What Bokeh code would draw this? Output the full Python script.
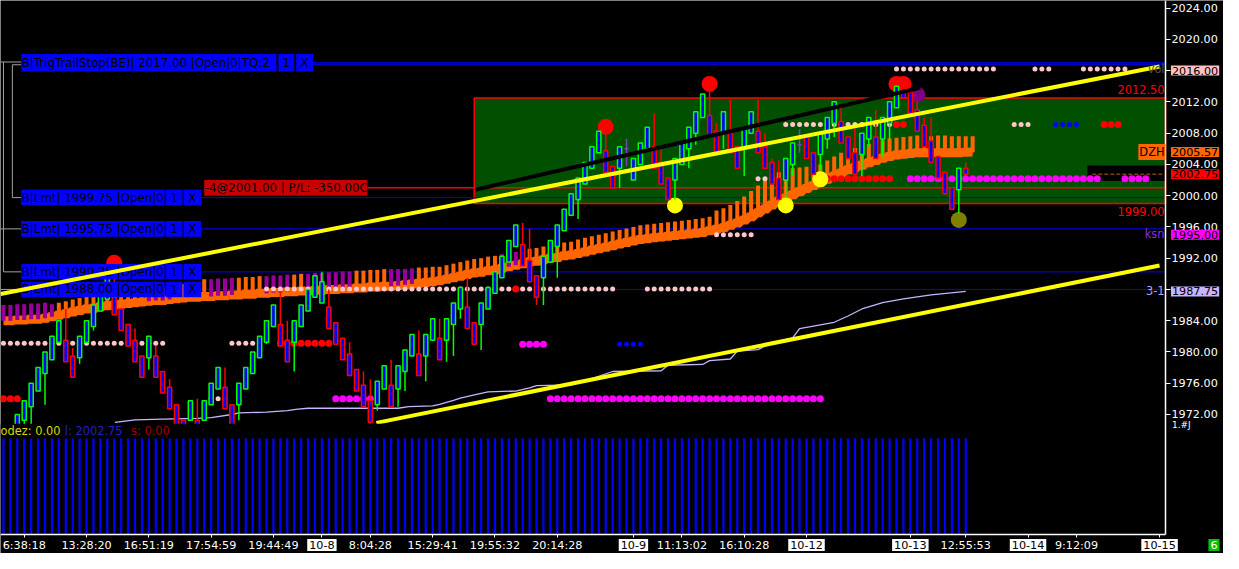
from bokeh.plotting import figure
from bokeh.models import (Range1d, LinearAxis, FixedTicker, Label, ColumnDataSource,
                          PrintfTickFormatter)
from bokeh.core.properties import value
from bokeh.embed import file_html
from bokeh.resources import INLINE

FONT = "DejaVu Sans"

# ---------------------------------------------------------------- data
# range-bar candles, bar 0 .. 137
opens = [1969.25, 1971.25, 1973.0, 1975.0, 1977.25, 1979.0, 1981.25, 1981.5, 1979.5, 1979.25,
         1981.25, 1983.25, 1985.25, 1986.75, 1987.0, 1985.5, 1983.5, 1981.5, 1979.5, 1979.25,
         1979.5, 1977.5, 1975.5, 1973.25, 1971.25, 1971.25, 1971.25, 1971.25, 1973.25, 1975.25,
         1975.5, 1973.25, 1973.25, 1975.25, 1977.25, 1979.25, 1981.25, 1983.25, 1983.5, 1981.5,
         1981.25, 1983.25, 1985.25, 1987.0, 1986.25, 1985.75, 1983.75, 1981.75, 1979.75, 1977.75,
         1975.75, 1973.75, 1973.25, 1975.25, 1975.75, 1975.25, 1977.5, 1979.5, 1979.75, 1979.5,
         1981.5, 1981.75, 1981.5, 1983.5, 1985.5, 1985.75, 1983.75, 1983.5, 1985.5, 1987.5,
         1989.5, 1991.5, 1993.5, 1993.75, 1991.75, 1989.75, 1989.5, 1991.5, 1993.5, 1995.5,
         1997.5, 1999.5, 2001.5, 2003.5, 2005.5, 2005.75, 2003.75, 2003.5, 2006.0, 2002.0,
         2004.0, 2006.0, 2006.25, 2004.25, 2002.25, 2002.0, 2004.0, 2006.0, 2008.0, 2010.0,
         2010.25, 2008.25, 2008.0, 2008.25, 2006.25, 2006.0, 2008.0, 2008.25, 2006.25, 2004.25,
         2002.25, 2002.0, 2004.0, 2006.5, 2007.5, 2005.5, 2005.25, 2007.25, 2009.25, 2009.5,
         2007.5, 2005.5, 2005.25, 2007.25, 2007.5, 2007.25, 2009.25, 2011.25, 2013.75, 2013.25,
         2011.0, 2009.0, 2007.0, 2005.0, 2003.0, 2001.0, 2000.75, 2003.5]
highs = [1972.0, 1973.75, 1976.0, 1978.0, 1980.0, 1982.0, 1984.0, 1985.5, 1980.5, 1982.0,
         1984.0, 1986.0, 1988.0, 1989.75, 1990.25, 1985.5, 1983.5, 1983.0, 1979.5, 1982.0,
         1980.75, 1977.5, 1976.5, 1973.25, 1971.25, 1973.75, 1974.0, 1973.75, 1976.0, 1978.0,
         1978.0, 1973.25, 1976.0, 1978.0, 1980.0, 1982.0, 1984.0, 1986.0, 1987.75, 1984.0,
         1984.0, 1986.0, 1988.0, 1989.75, 1990.25, 1988.0, 1983.75, 1981.75, 1981.25, 1977.75,
         1977.5, 1976.5, 1976.25, 1978.25, 1979.0, 1978.25, 1980.25, 1982.25, 1982.75, 1982.25,
         1984.25, 1984.25, 1984.25, 1986.25, 1988.25, 1989.5, 1983.75, 1986.25, 1988.25, 1990.25,
         1992.25, 1994.25, 1996.25, 1996.5, 1995.75, 1989.75, 1992.25, 1994.25, 1996.25, 1998.25,
         2000.25, 2002.25, 2004.25, 2006.25, 2008.25, 2008.75, 2003.75, 2006.25, 2007.25, 2004.75,
         2006.75, 2008.75, 2010.5, 2006.0, 2002.25, 2004.75, 2006.75, 2008.75, 2010.75, 2013.0,
         2013.25, 2009.25, 2010.75, 2012.25, 2006.25, 2008.75, 2010.75, 2012.25, 2008.0, 2004.75,
         2004.5, 2004.75, 2006.75, 2008.5, 2007.5, 2005.5, 2008.0, 2010.0, 2012.0, 2011.5,
         2007.5, 2008.75, 2008.0, 2010.0, 2011.0, 2010.0, 2012.0, 2014.0, 2014.0, 2013.25,
         2012.0, 2010.0, 2010.0, 2005.0, 2003.0, 2001.0, 2003.5, 2004.25]
lows = [1969.0, 1970.5, 1970.75, 1975.0, 1973.25, 1979.0, 1981.25, 1978.75, 1976.75, 1978.5,
        1981.25, 1982.75, 1985.25, 1986.75, 1984.75, 1982.75, 1980.75, 1978.75, 1976.75, 1977.75,
        1976.75, 1974.75, 1972.75, 1970.5, 1968.5, 1971.25, 1968.5, 1971.25, 1973.25, 1975.25,
        1972.75, 1970.5, 1971.25, 1975.25, 1977.25, 1979.25, 1981.0, 1983.25, 1980.75, 1978.75,
        1977.5, 1983.25, 1985.25, 1987.0, 1986.25, 1983.0, 1981.0, 1979.0, 1977.0, 1975.0,
        1973.0, 1970.5, 1972.5, 1975.25, 1973.0, 1973.0, 1975.0, 1979.5, 1977.0, 1976.25,
        1981.5, 1979.0, 1978.75, 1979.5, 1984.25, 1983.0, 1981.0, 1980.25, 1985.5, 1987.5,
        1989.5, 1991.5, 1993.5, 1991.0, 1989.0, 1986.0, 1986.0, 1991.5, 1989.5, 1995.5,
        1997.5, 1997.0, 2001.5, 2003.5, 2005.5, 2003.0, 2001.0, 2001.0, 2003.75, 2002.0,
        2004.0, 2006.0, 2003.5, 2001.5, 1999.5, 1999.5, 2004.0, 2003.5, 2006.5, 2010.0,
        2007.5, 2005.5, 2006.0, 2005.5, 2003.5, 2002.5, 2008.0, 2005.5, 2003.5, 2001.5,
        1999.5, 1999.75, 2002.5, 2005.5, 2004.75, 2002.75, 2003.25, 2006.0, 2007.5, 2006.75,
        2004.75, 2002.75, 2002.5, 2006.25, 2004.75, 2005.0, 2007.25, 2011.25, 2012.5, 2010.5,
        2008.25, 2006.25, 2004.25, 2002.25, 2000.25, 1998.25, 1997.75, 2002.75]
closes = [1972.0, 1973.75, 1976.0, 1978.0, 1980.0, 1982.0, 1984.0, 1978.75, 1976.75, 1982.0,
          1984.0, 1986.0, 1988.0, 1989.75, 1984.75, 1982.75, 1980.75, 1978.75, 1976.75, 1982.0,
          1976.75, 1974.75, 1972.75, 1970.5, 1968.5, 1973.75, 1968.5, 1973.75, 1976.0, 1978.0,
          1972.75, 1970.5, 1976.0, 1978.0, 1980.0, 1982.0, 1984.0, 1986.0, 1980.75, 1978.75,
          1984.0, 1986.0, 1988.0, 1989.75, 1989.0, 1983.0, 1981.0, 1979.0, 1977.0, 1975.0,
          1973.0, 1971.0, 1976.25, 1978.25, 1973.0, 1978.25, 1980.25, 1982.25, 1977.0, 1982.25,
          1984.25, 1979.0, 1984.25, 1986.25, 1988.25, 1983.0, 1981.0, 1986.25, 1988.25, 1990.25,
          1992.25, 1994.25, 1996.25, 1991.0, 1989.0, 1987.0, 1992.25, 1994.25, 1996.25, 1998.25,
          2000.25, 2002.25, 2004.25, 2006.25, 2008.25, 2003.0, 2001.0, 2006.25, 2006.0, 2004.75,
          2006.75, 2008.75, 2003.5, 2001.5, 1999.5, 2004.75, 2006.75, 2008.75, 2010.75, 2013.0,
          2007.5, 2005.5, 2010.75, 2005.5, 2003.5, 2008.75, 2010.75, 2005.5, 2003.5, 2001.5,
          1999.5, 2004.75, 2006.75, 2006.5, 2004.75, 2002.75, 2008.0, 2010.0, 2012.0, 2006.75,
          2004.75, 2002.75, 2008.0, 2010.0, 2004.75, 2010.0, 2012.0, 2014.0, 2012.5, 2010.5,
          2008.25, 2006.25, 2004.25, 2002.25, 2000.25, 1998.25, 2003.5, 2002.75]

# volume pane: bars -2 .. 137, every bar reaches the same height in the picture
vol_bars = list(range(-2, 138))
volume = [1.0] * len(vol_bars)

# orange "cloud" indicator, bars -2 .. 138: band level and stick tops
cloud_bars = list(range(-2, 139))
cloud_base = [1984.0, 1984.0, 1984.1, 1984.1, 1984.2, 1984.2, 1984.3,
              1984.5, 1984.7, 1984.9, 1985.1, 1985.3, 1985.5, 1985.6, 1985.8, 1985.9, 1986.0,
              1986.1, 1986.2, 1986.3, 1986.4, 1986.5, 1986.6, 1986.6, 1986.7, 1986.8, 1986.9, 1987.0, 1987.0,
              1987.1, 1987.1, 1987.2, 1987.2, 1987.3, 1987.3, 1987.4, 1987.4, 1987.5, 1987.5, 1987.6, 1987.6, 1987.7, 1987.7,
              1987.8, 1987.8, 1987.9, 1987.9, 1988.0, 1988.0, 1988.1, 1988.1, 1988.2, 1988.2,
              1988.3, 1988.3, 1988.4, 1988.4, 1988.5, 1988.6, 1988.7, 1988.8, 1988.9, 1989.0,
              1989.1, 1989.3, 1989.5, 1989.7, 1989.9, 1990.1, 1990.2, 1990.4, 1990.5, 1990.7,
              1990.9, 1991.1, 1991.3, 1991.5, 1991.6, 1991.8, 1992.0, 1992.1, 1992.3, 1992.4,
              1992.6, 1992.8, 1993.0, 1993.2, 1993.4, 1993.6, 1993.8, 1994.0, 1994.2, 1994.4,
              1994.5, 1994.6, 1994.7, 1994.8, 1994.9, 1995.0, 1995.1, 1995.2, 1995.3, 1995.5,
              1995.7, 1995.9, 1996.2, 1996.5, 1996.9, 1997.3, 1997.8, 1998.3, 1998.8, 1999.3,
              1999.7, 2000.1, 2000.5, 2000.9, 2001.3, 2001.7, 2002.1, 2002.5, 2002.9, 2003.3,
              2003.6, 2003.9, 2004.2, 2004.5, 2004.8, 2005.0, 2005.2, 2005.3, 2005.4, 2005.5,
              2005.5, 2005.5, 2005.5, 2005.5, 2005.5, 2005.5, 2005.55, 2005.57]
cloud_top = [1986.0, 1986.0, 1986.1, 1986.1, 1986.2, 1986.2, 1986.3,
             1986.1, 1986.3, 1986.5, 1986.7, 1986.9, 1987.1, 1987.2, 1987.4, 1987.5, 1987.6,
             1987.9, 1988.0, 1988.1, 1988.2, 1988.3, 1988.4, 1988.4, 1988.5, 1988.6, 1988.7, 1988.8, 1988.8,
             1989.3, 1989.3, 1989.4, 1989.4, 1989.5, 1989.5, 1989.6, 1989.6, 1989.7, 1989.7, 1989.8, 1989.8, 1989.9, 1989.9,
             1990.0, 1990.0, 1990.1, 1990.1, 1990.2, 1990.2, 1990.3, 1990.3, 1990.4, 1990.4,
             1990.5, 1990.5, 1990.6, 1990.6, 1990.6, 1990.6, 1990.7, 1990.8, 1990.8, 1990.9,
             1990.9, 1991.1, 1991.3, 1991.5, 1991.7, 1991.9, 1992.0, 1992.2, 1992.3, 1992.5,
             1992.6, 1992.8, 1993.0, 1993.2, 1993.3, 1993.5, 1993.7, 1993.8, 1994.0, 1994.1,
             1994.4, 1994.6, 1994.8, 1995.0, 1995.2, 1995.4, 1995.6, 1995.8, 1996.0, 1996.2,
             1996.3, 1996.4, 1996.5, 1996.6, 1996.7, 1996.8, 1996.9, 1997.0, 1997.1, 1997.3,
             1998.1, 1998.4, 1998.8, 1999.3, 1999.9, 2000.6, 2001.3, 2002.0, 2002.5, 2003.0,
             2003.3, 2003.5, 2003.6, 2003.7, 2003.8, 2004.0, 2004.5, 2005.0, 2005.5, 2005.9,
             2006.1, 2006.4, 2006.6, 2006.9, 2007.1, 2007.3, 2007.4, 2007.5, 2007.6, 2007.7,
             2007.6, 2007.6, 2007.7, 2007.7, 2007.6, 2007.6, 2007.6, 2007.6]
cloud_purple_runs = [(-2, 5), (19, 22), (28, 31), (36, 39), (42, 48), (54, 57), (70, 72)]

# thin lavender "3-1" line (bar, price)
lav_bars = [14.1, 17, 21, 26, 28, 31, 32, 36, 39, 40.5, 42, 55, 56.5, 60, 61, 63, 64, 66, 68, 72,
            74, 75, 80, 83, 86, 93, 94, 99, 100, 103, 104, 107, 109, 112, 113, 118, 120, 122, 125,
            128, 132, 137]
lav_prices = [1971.0, 1971.3, 1971.4, 1971.5, 1971.6, 1972.0, 1972.2, 1972.3, 1972.5, 1972.7,
              1972.8, 1972.8, 1973.0, 1973.1, 1973.3, 1973.8, 1974.1, 1974.5, 1974.9, 1975.0,
              1975.4, 1975.7, 1975.8, 1976.6, 1977.5, 1977.6, 1978.3, 1978.4, 1978.9, 1979.1,
              1980.1, 1980.3, 1981.2, 1981.8, 1983.0, 1983.8, 1984.6, 1985.5, 1986.3, 1986.8,
              1987.3, 1987.75]

# trend lines (bar, price) end points
upper_trend_bars, upper_trend_prices = [-2.43, 165.0], [1987.42, 2016.53]
lower_trend_bars, lower_trend_prices = [51.86, 165.0], [1970.93, 1991.06]
black_trend_bars, black_trend_prices = [66.14, 130.43], [2000.75, 2013.79]

# dot rows: first bar, last bar, price, kind
dot_rows = [
    (127, 141, 2016.2, "pink"), (147, 149, 2016.2, "pink"), (154, 160, 2016.2, "pink"),
    (111, 126, 2009.1, "pink"), (127, 128, 2009.1, "red"), (144, 146, 2009.1, "pink"),
    (150, 153, 2009.1, "blue"), (157, 159, 2009.1, "red"),
    (107, 110, 2002.15, "pink"), (117, 126, 2002.15, "red"), (129, 156, 2002.15, "magenta"),
    (160, 163, 2002.15, "magenta"),
    (101, 106, 1995.0, "pink"),
    (36, 71, 1988.05, "pink"), (72, 72, 1988.05, "red"), (73, 86, 1988.05, "pink"),
    (91, 100, 1988.05, "pink"),
    (-2, 21, 1981.1, "pink"), (31, 34, 1981.1, "pink"), (38, 45, 1981.1, "red"),
    (73, 76, 1981.0, "magenta"), (87, 90, 1981.0, "blue"),
    (-2, 0, 1974.0, "red"), (28, 30, 1974.0, "pink"), (46, 51, 1974.0, "magenta"),
    (77, 116, 1974.0, "magenta"),
]

# big signal circles
circle_bars = [14, 85, 100, 127, 128, 95, 111, 116, 130, 136]
circle_prices = [1991.4, 2008.8, 2014.3, 2014.3, 2014.3, 1998.75, 1998.75, 2002.1, 2012.9, 1996.9]
circle_kinds = ["red", "red", "red", "red", "red", "yellow", "yellow", "yellow", "purple", "olive"]

# orders
order_prices = [2017.00, 1999.75, 1995.75, 1990.25, 1988.00]
order_texts = ["B|TrigTrailStop(BE)| 2017.00 |Open|0|TQ:2", "B|Lmt| 1999.75 |Open|0",
               "B|Lmt| 1995.75 |Open|0", "B|Lmt| 1990.25 |Open|0", "B|Lmt| 1988.00 |Open|0"]
order_qty = ["1", "1", "1", "1", "1"]
position_price = 2001.00
position_text = "-4@2001.00 | P/L: -350.00C"
zone_top, zone_bottom = 2012.50, 1999.00
last_price = 2002.75
cloud_last = 2005.57
tag_prices = [2016.00, 2005.57, 2002.75, 1995.00, 1987.75]

price_ticks = [1972.0, 1976.0, 1980.0, 1984.0, 1988.0, 1992.0, 1996.0, 2000.0, 2004.0,
               2008.0, 2012.0, 2016.0, 2020.0, 2024.0]
time_ticks = [1, 10, 19, 28, 37, 44, 51, 60, 69, 78, 89, 96, 105, 114, 129, 137, 146, 153, 165]
time_labels = ["6:38:18", "13:28:20", "16:51:19", "17:54:59", "19:44:49", "10-8", "8:04:28",
               "15:29:41", "19:55:32", "20:14:28", "10-9", "11:13:02", "16:10:28", "10-12",
               "10-13", "12:55:53", "10-14", "9:12:09", "10-15"]

# ---------------------------------------------------------------- geometry helpers
PX0, PXB = 17.0, 7.0          # reference pixel of bar 0, pixels per bar
W, H = 1223, 553
SX, SY = 1165.0 / 1178.0, 534.0 / 550.0   # canvas px per reference px


def bx(px):
    return (px - PX0) / PXB


def py(y):
    return 2000.0 + (201.0 - y) / 8.05


XR = bx(1178)                 # right edge of the price pane
YB = py(550)                  # bottom edge of the volume pane
X0, X1 = bx(0), bx(W / SX)
Y0, Y1 = py(H / SY), py(0)
VOL0, VOL1 = (550.0 - H / SY) / 99.0, 550.0 / 99.0

COL = {"pink": "#ffc8c8", "red": "#ff0000", "magenta": "#ff00ff", "blue": "#0000ff",
       "yellow": "#ffff00", "purple": "#800080", "olive": "#808000", "orange": "#ff6600"}

p = figure(width=W, height=H, output_backend="svg", toolbar_location=None,
           x_range=Range1d(X0, X1), y_range=Range1d(Y0, Y1),
           x_axis_location=None, y_axis_location=None,
           background_fill_color="black", border_fill_color="black", outline_line_color=None,
           min_border=0)
p.grid.visible = False
p.extra_y_ranges = {"vol": Range1d(VOL0, VOL1)}

# axes (fixed at the pane edges)
yaxis = LinearAxis(ticker=FixedTicker(ticks=price_ticks),
                   formatter=PrintfTickFormatter(format="%.2f"),
                   major_label_overrides={2016.0: "", 1988.0: ""},
                   fixed_location=XR, bounds=(YB, Y1))
xaxis = LinearAxis(ticker=FixedTicker(ticks=time_ticks),
                   major_label_overrides={t: ("" if "-" in s else s)
                                          for t, s in zip(time_ticks, time_labels)},
                   fixed_location=YB, bounds=(X0, XR))
for ax in (yaxis, xaxis):
    ax.axis_line_color = "white"
    ax.axis_line_width = 1.5
    ax.major_tick_line_color = "white"
    ax.minor_tick_line_color = None
    ax.major_tick_in = 0
    ax.major_label_text_color = "white"
    ax.major_label_text_font = FONT
    ax.major_label_text_font_size = "11.2px"
yaxis.major_tick_out = 5
yaxis.major_label_standoff = 1
xaxis.major_tick_out = 3
xaxis.major_label_standoff = 1
p.add_layout(yaxis, "right")
p.add_layout(xaxis, "below")

# order zone
p.quad(left=bx(479), right=XR, top=zone_top, bottom=zone_bottom,
       fill_color="#005000", line_color="#ff0000", line_width=1.5)
p.quad(left=bx(1099), right=XR, top=py(170), bottom=py(186),
       fill_color="black", line_color=None)
p.segment(x0=bx(1104), y0=last_price, x1=bx(1176), y1=last_price,
          line_color="#b06020", line_dash="4 2", line_width=1)

# order lines
ol_x0 = [bx(316), bx(316)] + [bx(203)] * 4
ol_y = [order_prices[0], order_prices[0] - 0.25] + order_prices[1:]
p.segment(x0=ol_x0, y0=ol_y, x1=[XR] * len(ol_y), y1=ol_y, line_color="#0000ff", line_width=1)
p.segment(x0=bx(371), y0=position_price, x1=XR, y1=position_price,
          line_color="#ff0000", line_width=1.5)
# grey order connectors
gx0 = [X0, bx(3), bx(3), bx(12), bx(12), bx(12), X0, X0]
gy0 = [order_prices[0] + 0.1, order_prices[0] + 0.1, order_prices[3], order_prices[0] - 0.25,
       order_prices[0] - 0.25, order_prices[1], order_prices[2], order_prices[4]]
gx1 = [bx(21), bx(3), bx(21), bx(21), bx(12), bx(21), bx(21), bx(21)]
gy1 = [order_prices[0] + 0.1, order_prices[3], order_prices[3], order_prices[0] - 0.25,
       order_prices[1], order_prices[1], order_prices[2], order_prices[4]]
p.segment(x0=gx0, y0=gy0, x1=gx1, y1=gy1, line_color="#a0a0a0", line_width=1)

# lavender line
p.line(lav_bars, lav_prices, line_color="#c8b4ff", line_width=1.3)

# orange cloud: stepped band with a stick at every bar
p.step(cloud_bars, cloud_base, mode="center", line_color=COL["orange"], line_width=9)
stick_colors = []
for b in cloud_bars:
    purple = any(a <= b <= z for a, z in cloud_purple_runs)
    stick_colors.append("#990099" if purple else COL["orange"])
p.vbar(x=cloud_bars, bottom=cloud_base, top=cloud_top, width=0.58,
       fill_color=stick_colors, line_color=None)

# dot rows
dx, dy, dc, ds = [], [], [], []
for a, z, price, kind in dot_rows:
    for b in range(a, z + 1):
        dx.append(b)
        dy.append(price)
        dc.append(COL[kind])
        ds.append(5 if kind in ("pink", "blue") else 7)
p.scatter(x=dx, y=dy, size=ds, fill_color=dc, line_color=None, marker="circle")

# signal circles
p.scatter(x=circle_bars, y=circle_prices, size=16,
          fill_color=[COL[k] for k in circle_kinds], line_color=None)

# candles
bars = list(range(len(opens)))
cc = []
for o, c in zip(opens, closes):
    cc.append("#00ff00" if c > o else ("#ff0000" if c < o else "#8040c0"))
src = ColumnDataSource(dict(x=bars, o=opens, h=highs, l=lows, c=closes,
                            top=[max(a, b) for a, b in zip(opens, closes)],
                            bot=[min(a, b) for a, b in zip(opens, closes)], col=cc))
p.segment(x0="x", y0="l", x1="x", y1="h", line_color="col", line_width=1.5, source=src)
p.vbar(x="x", top="top", bottom="bot", width=0.6, fill_color="#0000ff",
       line_color="col", line_width=1.5, source=src)

# order labels (boxes are drawn under the trend lines, like in the picture)
box_px = [(279, 281, 297, 299, 316, 9), (166, 167, 184, 185, 203, 8), (166, 167, 184, 185, 203, 8),
          (166, 167, 184, 185, 203, 8), (166, 167, 184, 185, 203, 8)]
ql, qr, qt, qb = [], [], [], []
tx, ty, tt, ta = [], [], [], []
for price, text, qty, (mr, q0, q1, x0, x1, hh) in zip(order_prices, order_texts, order_qty, box_px):
    h = hh / 8.05
    for l_, r_ in ((21, mr), (q0, q1), (x0, x1)):
        ql.append(bx(l_)); qr.append(bx(r_)); qt.append(price + h); qb.append(price - h)
    tx += [bx(21.5), bx((q0 + q1) / 2), bx((x0 + x1) / 2)]
    ty += [price] * 3
    tt += [text, qty, "X"]
    ta += ["left", "center", "center"]
p.quad(left=ql, right=qr, top=qt, bottom=qb, fill_color="#0000ff", line_color=None)
p.text(x=tx, y=ty, text=tt, text_align=ta, text_baseline="middle", text_color="black",
       text_font=value(FONT), text_font_size="11.8px")
p.quad(left=bx(206), right=bx(371), top=position_price + 1.0, bottom=position_price - 1.0,
       fill_color="#c80000", line_color=None)
p.text(x=[bx(206.5)], y=[position_price], text=[position_text], text_align="left",
       text_baseline="middle", text_color="black", text_font=value(FONT), text_font_size="11.8px")

# trend lines
p.line(black_trend_bars, black_trend_prices, line_color="black", line_width=4)
p.line(upper_trend_bars, upper_trend_prices, line_color="#ffff00", line_width=4)
p.line(lower_trend_bars, lower_trend_prices, line_color="#ffff00", line_width=4)

# lower pane: mask + volume + legend
p.quad(left=X0, right=XR, top=py(436), bottom=YB, fill_color="black", line_color=None)
p.vbar(x=vol_bars, top=volume, bottom=0, width=0.32, fill_color="#0000ff", line_color=None,
       y_range_name="vol")
leg_y = py(443.5)
p.text(x=[X0, bx(65), bx(132)], y=[leg_y] * 3, text=["odez: 0.00", "l: 2002.75", "s: 0.00"],
       text_color=["#d8d800", "#2020c8", "#a00000"], text_align="left", text_baseline="middle",
       text_font=value(FONT), text_font_size="11.4px")

# texts at the right edge of the price pane
rx = bx(1177)
p.text(x=[rx] * 5, y=[py(92), py(217), py(71), py(241), py(299)],
       text=["%.2f" % zone_top, "%.2f" % zone_bottom, "vol", "ksn", "3-1"],
       text_color=["#ff0000", "#ff0000", "#505050", "#8a2be2", "#b4a0ff"],
       text_align="right", text_baseline="middle", text_font=value(FONT), text_font_size="11.4px")


def tag(x, y, text, bg, fg, align="left", size="11.2px", pad=1):
    p.add_layout(Label(x=x, y=y, text=text, text_align=align, text_baseline="middle",
                       text_color=fg, text_font=FONT, text_font_size=size,
                       background_fill_color=bg, padding=pad))


tag(XR, cloud_last, "DZH", COL["orange"], "black", align="right", size="11.4px")

# coloured price tags on the price axis
AX = bx(1183.5)
tag_colors = ["#ffc0c0", COL["orange"], "#ff0000", "#ff00ff", "#c8b4ff"]
for price, bg in zip(tag_prices, tag_colors):
    tag(AX, price, "%.2f" % price, bg, "black")
tag(AX, py(437), "1.#J", None, "white", size="9px")

# date labels of the time axis
LY = py(544.5 / SY)
for t, s in zip(time_ticks, time_labels):
    if "-" in s:
        tag(t, LY, s, "white", "black", align="center", pad=2)
tag(bx(1227), LY, "6", "#00c000", "white", align="center", pad=2)

open("out.html", "w").write(file_html(p, INLINE))
